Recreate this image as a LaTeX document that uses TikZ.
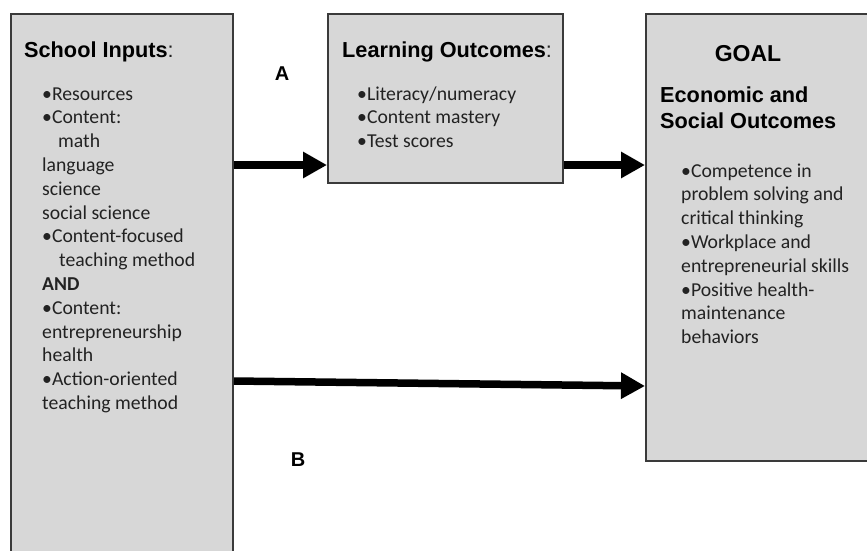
\documentclass[tikz,border=0pt]{standalone}
\usepackage{fontspec}
\newfontfamily\headfont{Liberation Sans}
\newfontfamily\bodyfont{Carlito}
\usetikzlibrary{arrows.meta,positioning,calc}
\definecolor{boxgray}{HTML}{D7D7D7}
\definecolor{edgegray}{HTML}{3A3A3A}
\definecolor{inkgray}{HTML}{222222}
\tikzset{
>={Triangle[length=24pt,width=25pt]},
  stage/.style={
    rectangle,
    fill=boxgray,
    draw=edgegray, line width=2pt,
    inner sep=0pt},
  heading/.style={
    inner sep=0pt,
    anchor=north west,
    align=left,
    text=black,
    font=\headfont\bfseries\fontsize{21.7}{26}\selectfont},
  items/.style={
    inner sep=0pt,
    anchor=north west,
    align=left,
    text=inkgray,
    font=\bodyfont\fontsize{19.7}{23.8}\selectfont},
  flow/.style={->, line width=7.5pt},
  flowlabel/.style={font=\headfont\bfseries\fontsize{20}{24}\selectfont},
}

\begin{document}
\begin{tikzpicture}[x=1pt,y=-1pt]
  \useasboundingbox (0,0) rectangle (867,550);
  \clip (0,0) rectangle (867,550);
  % the three stages; the outer two run off the page
  \node[stage, anchor=north west, minimum width=222, minimum height=600]
      (inputs) at (10,13) {};
  \node[stage, anchor=north west, minimum width=235, minimum height=169]
      (outcomes) at (327,13) {};
  \node[stage, anchor=north west, minimum width=260, minimum height=447]
      (goal) at (645,13) {};
  %% School inputs
  \node[heading] (inputshead) at (24,38.8)
      {\strut School Inputs{\mdseries\color{inkgray}:}};
  \node[items] (inputslist) at (42,83.3)
      {\strut •Resources\\
       •Content:\\
       \hspace*{16pt}math\\
       language\\
       science\\
       social science\\
       •Content-focused\\
       \hspace*{17pt}teaching method\\
       \textbf{AND}\\
       •Content:\\
       entrepreneurship\\
       health\\
       •Action-oriented\\
       teaching method};
  %% Learning outcomes
  \node[heading] (outcomeshead) at (342,38.8)
      {\strut Learning Outcomes{\mdseries\color{inkgray}:}};
  \node[items] (outcomeslist) at (357,83.3)
      {\strut •Literacy/numeracy\\
       •Content mastery\\
       •Test scores};
  %% Goal
  \node[heading, anchor=base, font=\headfont\bfseries\fontsize{23}{28}\selectfont]
      (goaltitle) at (748,61) {GOAL};
  \node[heading] (goalhead) at (660,83.8)
      {\strut Economic and\\Social Outcomes};
  \node[items] (goallist) at (681,160.3)
      {\strut •Competence in\\
       problem solving and\\
       critical thinking\\
       •Workplace and\\
       entrepreneurial skills\\
       •Positive health-\\
       maintenance\\
       behaviors};
  % the two routes
  \coordinate (rowA) at (0,165);
  \coordinate (rowB) at (0,381);
  \draw[flow] (inputs.east |- rowA) -- (outcomes.west |- rowA);
  \draw[flow] (outcomes.east |- rowA) -- (goal.west |- rowA);
  \draw[flow] (inputs.east |- rowB) -- ($(goal.west |- rowB)+(0,5)$);
  \node[flowlabel] (labelA) at (282,74) {A};
  \node[flowlabel] (labelB) at (298,460) {B};
\end{tikzpicture}
\end{document}
